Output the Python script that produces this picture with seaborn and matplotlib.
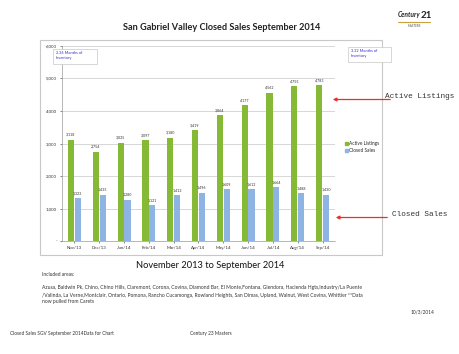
import matplotlib
matplotlib.use("Agg")
import matplotlib.pyplot as plt
import seaborn as sns
import pandas as pd
from matplotlib.patches import Rectangle

months = ["Nov/13", "Dec/13", "Jan/14", "Feb/14", "Mar/14", "Apr/14", "May/14",
          "Jun/14", "Jul/14", "Aug/14", "Sep/14"]
active_listings = [3118, 2754, 3025, 3097, 3180, 3419, 3864, 4177, 4562, 4755, 4783]
closed_sales = [1323, 1435, 1280, 1121, 1412, 1496, 1609, 1612, 1664, 1488, 1430]
series_names = ["Active Listings", "Closed Sales"]
y_ticks = [0, 1000, 2000, 3000, 4000, 5000, 6000]
y_tick_labels = ["-", "1,000", "2,000", "3,000", "4,000", "5,000", "6,000"]
left_note = "2.36 Months of\nInventory"
right_note = "3.32 Months of\nInventory"
areas_text = ("Azusa, Baldwin Pk, Chino, Chino Hills, Claremont, Corona, Covina, Diamond Bar, El Monte,Fontana, Glendora, Hacienda Hgts,Industry/La Puente\n"
              "/Valinda, La Verne,Montclair, Ontario, Pomona, Rancho Cucamonga, Rowland Heights, San Dimas, Upland, Walnut, West Covina, Whittier **Data\n"
              "now pulled from Carets")

df = pd.DataFrame({
    "Month": months * 2,
    "Value": active_listings + closed_sales,
    "Series": [series_names[0]] * len(months) + [series_names[1]] * len(months),
})

sns.set_theme(style="white")
plt.rcParams["font.family"] = ["Lato", "DejaVu Sans"]

W, H = 460, 354
fig = plt.figure(figsize=(W / 100, H / 100), dpi=100)

def fx(px):
    return px / W

def fy(py):
    return 1 - py / H

# chart frame
fig.patches.append(Rectangle((fx(40), fy(255)), fx(382) - fx(40), fy(40) - fy(255),
                             transform=fig.transFigure, fill=False, edgecolor="#c8c8c8", lw=0.8))

ax = fig.add_axes([fx(62), fy(241.3), fx(335) - fx(62), fy(45.7) - fy(241.3)])
palette = {"Active Listings": "#86b936", "Closed Sales": "#8eb4e3"}
sns.barplot(data=df, x="Month", y="Value", hue="Series", palette=palette,
            width=0.55, gap=0.1, ax=ax, edgecolor=None, linewidth=0, saturation=1)

ax.set_xlim(-0.5, len(months) - 0.5)
ax.set_ylim(0, 6000)
ax.set_yticks(y_ticks)
ax.set_yticklabels(y_tick_labels, fontsize=3.2, color="#333333")
ax.tick_params(axis="x", labelsize=3.2, colors="#333333", length=1.5, width=0.4, pad=2)
ax.tick_params(axis="y", length=1.5, width=0.4, pad=2, left=True)
ax.tick_params(axis="x", bottom=True)
ax.set_xlabel("")
ax.set_ylabel("")
ax.grid(axis="y", color="#c8c8c8", lw=0.5)
ax.set_axisbelow(True)
for s in ["top", "right"]:
    ax.spines[s].set_visible(False)
for s in ["left", "bottom"]:
    ax.spines[s].set_color("#9a9a9a")
    ax.spines[s].set_linewidth(0.5)

for cont in ax.containers:
    labels = [f"{int(v):,}" for v in cont.datavalues]
    ax.bar_label(cont, labels=labels, fontsize=2.6, color="#333333", padding=2)

ax.legend_.remove()
handles = [Rectangle((0, 0), 1, 1, color=palette[n]) for n in series_names]
fig.legend(handles, series_names, loc="upper left", bbox_to_anchor=(fx(343), fy(139)),
           fontsize=3.4, frameon=False, handlelength=0.6, handleheight=0.6,
           handletextpad=0.2, labelspacing=0.5, borderaxespad=0)

# inventory notes
for txt, x0, y0, w, h in [(left_note, 53, 49, 44, 15), (right_note, 348, 47, 43, 15)]:
    fig.patches.append(Rectangle((fx(x0), fy(y0 + h)), w / W, h / H, transform=fig.transFigure,
                                 facecolor="white", edgecolor="#c8c8c8", lw=0.5))
    fig.text(fx(x0 + 3), fy(y0 + 2.5), txt, fontsize=2.8, color="#3333cc", va="top", ha="left",
             linespacing=1.3)

# titles
fig.text(fx(222), fy(28), "San Gabriel Valley Closed Sales September 2014", fontsize=6.6,
         fontweight="bold", ha="center", va="center", color="#222222")
fig.text(fx(210), fy(266), "November 2013 to September 2014", fontsize=6.7,
         ha="center", va="center", color="#111111")

# logo
fig.text(fx(420), fy(15), "Century", fontsize=4.8, fontweight="bold", ha="right", va="center",
         color="#222222", style="italic")
fig.text(fx(421), fy(16), "21", fontsize=7, fontweight="bold", ha="left", va="center", color="#222222")
fig.lines.append(plt.Line2D([fx(398), fx(430)], [fy(22), fy(22)], transform=fig.transFigure,
                            color="#c9a23b", lw=0.8))
fig.text(fx(414), fy(26), "MASTERS", fontsize=2.2, ha="center", va="center", color="#555555")

# arrow annotations
mono = ["Liberation Mono", "DejaVu Sans Mono"]
fig.text(fx(385), fy(96), "Active Listings", fontsize=5.6, family=mono, ha="left", va="center",
         color="#333333")
fig.text(fx(392), fy(214), "Closed Sales", fontsize=5.6, family=mono, ha="left", va="center",
         color="#333333")
for y_a, x_start, x_end in [(99.5, 393, 330), (217.5, 390, 333)]:
    fig.patches.append(matplotlib.patches.FancyArrowPatch(
        (fx(x_start), fy(y_a)), (fx(x_end), fy(y_a)), transform=fig.transFigure,
        arrowstyle="-|>", mutation_scale=5, color="#e8302a", lw=0.9))

# notes
fig.text(fx(42), fy(275), "Included areas:", fontsize=3.5, ha="left", va="center", color="#333333")
fig.text(fx(42), fy(285.5), areas_text, fontsize=3.6, ha="left", va="top", color="#333333",
         linespacing=1.5)
fig.text(fx(434), fy(312), "10/3/2014", fontsize=3.4, ha="right", va="center", color="#333333")
fig.text(fx(10), fy(334), "Closed Sales SGV September 2014Data for Chart", fontsize=3.4,
         ha="left", va="center", color="#333333")
fig.text(fx(190), fy(334), "Century 23 Masters", fontsize=3.4, ha="left", va="center", color="#333333")

fig.savefig("out.png", dpi=100, facecolor="white")
